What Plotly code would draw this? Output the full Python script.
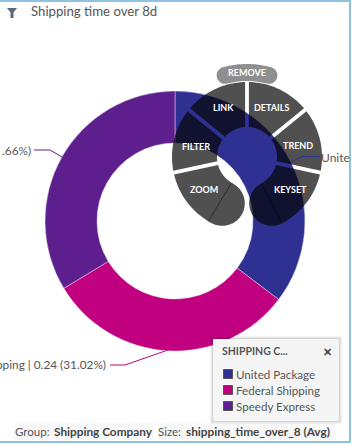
import math
import plotly.graph_objects as go

W, H = 353, 444
FONT = "Lato"

categories = ["United Package", "Federal Shipping", "Speedy Express"]
values = [0.2733, 0.2400, 0.2605]
shown_values = ["0.27", "0.24", "0.26"]
shown_percents = ["35.32%", "31.02%", "33.66%"]
colors = ["#2e3192", "#c1007f", "#5e1f8e"]
menu_items = ["LINK", "DETAILS", "FILTER", "TREND", "ZOOM", "KEYSET"]
title_text = "Shipping time over 8d"
legend_title = "SHIPPING C..."


def X(px):
    return px / W


def Y(py):
    return 1 - py / H


def path_of(points, close=True):
    s = "M" + " L".join(f"{X(a):.5f},{Y(b):.5f}" for a, b in points)
    return s + (" Z" if close else "")


CX, CY = 247, 157


def polar(r, deg):
    t = math.radians(deg)
    return (CX + r * math.sin(t), CY - r * math.cos(t))


def arc(r, a0, a1, n=30):
    return [polar(r, a0 + (a1 - a0) * i / n) for i in range(n + 1)]


def wedge(a0, a1, r0=30, r1=75, gap=1.9):
    do = math.degrees(gap / r1)
    di = math.degrees(gap / r0)
    return arc(r1, a0 + do, a1 - do) + arc(r0, a1 - di, a0 + di)


def capped(a0, a1, r0, r1, cap_start=False, cap_end=True, gap=1.9):
    """Band between a0 and a1, rounded at its ends."""
    pts = []
    mid, rad = (r0 + r1) / 2, (r1 - r0) / 2
    sgn = 1 if a1 > a0 else -1

    def cap(a, direction):
        c = polar(mid, a)
        t = math.radians(a)
        out = (math.sin(t), -math.cos(t))
        tan = (math.cos(t) * direction, math.sin(t) * direction)
        res = []
        for i in range(1, 16):
            p = math.pi * i / 16
            res.append((c[0] + rad * (math.cos(p) * out[0] + math.sin(p) * tan[0]),
                        c[1] + rad * (math.cos(p) * out[1] + math.sin(p) * tan[1])))
        return res

    if cap_start:
        s0o, s0i = a0, a0
    else:
        s0o = a0 + sgn * math.degrees(gap / r1)
        s0i = a0 + sgn * math.degrees(gap / r0)
    pts += arc(r1, s0o, a1)
    if cap_end:
        pts += cap(a1, sgn)
    pts += arc(r0, a1, s0i)
    if cap_start:
        pts += cap(a0, -sgn)[::-1]
    return pts


MENU = "rgba(5,5,5,0.70)"
shapes = []

# panel border: top, right and bottom only
for pts in ([(0, 1), (350, 1)], [(350, 0), (350, 442)], [(0, 442), (351, 442)]):
    shapes.append(dict(type="path", xref="paper", yref="paper", path=path_of(pts, close=False),
                       line=dict(color="#8fc1e3", width=2), layer="below"))

# radial menu
for a0, a1 in [(-51, 0), (0, 51), (-102, -51), (51, 102)]:
    shapes.append(dict(type="path", xref="paper", yref="paper", path=path_of(wedge(a0, a1)),
                       fillcolor=MENU, line_width=0))
for a0, a1 in [(-102, -152), (102, 152)]:
    shapes.append(dict(type="path", xref="paper", yref="paper", path=path_of(capped(a0, a1, 30, 75)),
                       fillcolor=MENU, line_width=0))
shapes.append(dict(type="path", xref="paper", yref="paper",
                   path=path_of(capped(-15, 15, 76, 93, cap_start=True)),
                   fillcolor="#8f8f8f", line_width=0))
for a in (-149, 152):
    shapes.append(dict(type="path", xref="paper", yref="paper",
                       path=path_of([polar(31, a), polar(75, a)], close=False),
                       line=dict(color="rgba(0,0,0,0.45)", width=1)))

# leader lines
leaders = [
    ([(291, 162), (302, 156.5), (320, 156.5)], colors[0]),
    ([(110, 365), (125, 365), (168, 350)], colors[1]),
    ([(34, 150), (50, 150), (62, 157)], colors[2]),
]
for pts, c in leaders:
    shapes.append(dict(type="path", xref="paper", yref="paper", path=path_of(pts, close=False),
                       line=dict(color=c, width=1)))

# filter icon
shapes.append(dict(type="path", xref="paper", yref="paper",
                   path=path_of([(7, 8), (17, 8), (13.5, 12.5), (13.5, 18), (10.5, 18), (10.5, 12.5)]),
                   fillcolor="#5b6b7b", line_width=0))

# footer backgrounds
for x0, x1 in [(14, 154), (158, 336)]:
    shapes.append(dict(type="rect", xref="paper", yref="paper", x0=X(x0), x1=X(x1), y0=Y(440), y1=Y(423),
                       fillcolor="#f8f8f8", line_width=0))

# legend box with soft shadow
for grow, alpha in [(3, 0.04), (2, 0.06), (1, 0.08)]:
    shapes.append(dict(type="rect", xref="paper", yref="paper", x0=X(213 - grow), x1=X(339 + grow),
                       y0=Y(421 + grow), y1=Y(339 - grow),
                       fillcolor=f"rgba(0,0,0,{alpha})", line_width=0))
shapes.append(dict(type="rect", xref="paper", yref="paper", x0=X(213), x1=X(339), y0=Y(421), y1=Y(339),
                   fillcolor="#f5f5f5", line_width=0))
for i, c in enumerate(colors):
    yc = 374 + 16 * i
    shapes.append(dict(type="rect", xref="paper", yref="paper", x0=X(223.5), x1=X(232.5), y0=Y(yc + 4.5), y1=Y(yc - 4.5),
                       fillcolor=c, line=dict(color="#555555", width=1)))


def note(px, py, text, size=12, color="#555555", anchor="left"):
    return dict(xref="paper", yref="paper", x=X(px), y=Y(py), text=text, showarrow=False,
                xanchor=anchor, yanchor="middle", align=anchor,
                font=dict(family=FONT, size=size, color=color))


label_federal = f"{categories[1]} | {shown_values[1]} ({shown_percents[1]})"
label_speedy = f"{categories[2]} | {shown_values[2]} ({shown_percents[2]})"

annotations = [
    note(29, 11, title_text, 13.2),
    note(319, 157, categories[0][:5], 12),
    note(108, 364, label_federal[label_federal.index("pping"):], 11.8, anchor="right"),
    note(33, 150, label_speedy[label_speedy.index(".66"):], 11.8, anchor="right"),
    note(220, 351, f"<b>{legend_title}</b>", 10.5),
    note(327, 351, "<b>✕</b>", 11, "#444444", "center"),
    note(247, 72, "<b>REMOVE</b>", 9, "white", "center"),
    note(13, 431, "Group:", 11.5),
    note(52, 431, "<b>Shipping Company</b>", 11.8, "#444444"),
    note(156, 431, "Size:", 11.5),
    note(184, 431, "<b>shipping_time_over_8 (Avg)</b>", 11.8, "#444444"),
]
for i, c in enumerate(categories):
    annotations.append(note(234, 374 + 16 * i, c, 11.6))
menu_pos = [(223, 108), (271, 108), (196, 146), (298, 145), (204, 189), (290, 189)]
for (mx, my), name in zip(menu_pos, menu_items):
    annotations.append(note(mx, my, f"<b>{name}</b>", 9, "white", "center"))

fig = go.Figure(go.Pie(
    labels=categories,
    values=values,
    hole=0.6,
    sort=False,
    direction="clockwise",
    rotation=0,
    textinfo="none",
    marker=dict(colors=colors, line=dict(color="white", width=0.4)),
    domain=dict(x=[X(45), X(305)], y=[Y(351), Y(91)]),
    showlegend=False,
))
fig.update_layout(
    width=W, height=H,
    margin=dict(l=0, r=0, t=0, b=0),
    paper_bgcolor="white",
    shapes=shapes,
    annotations=annotations,
    font=dict(family=FONT),
)
fig.write_html("out.html", config=dict(displayModeBar=False),
               post_script="document.body.style.margin='0';document.body.style.overflow='hidden';")
